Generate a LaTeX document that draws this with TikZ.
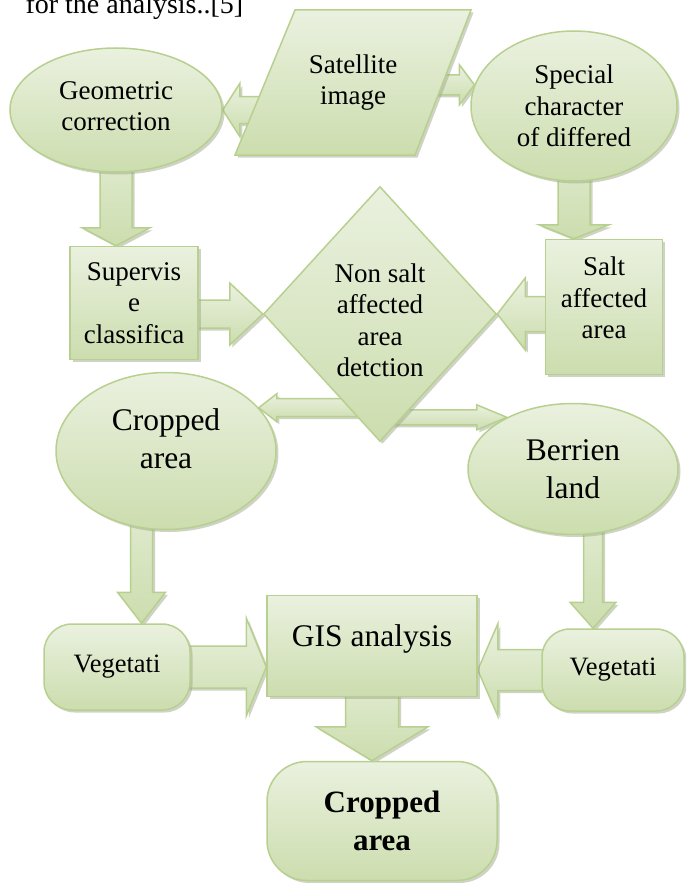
\documentclass[tikz,border=0pt]{standalone}
\usepackage{fontspec}
\setmainfont{Liberation Serif}
\usetikzlibrary{shapes.geometric,shadows,calc}
\definecolor{gfill}{RGB}{234,241,223}
\definecolor{gdark}{RGB}{204,221,174}
\definecolor{gline}{RGB}{184,208,143}
\definecolor{gshad}{RGB}{160,168,142}
\pgfdeclarelayer{bg}
\pgfsetlayers{bg,main}
\begin{document}
\begin{tikzpicture}[x=1pt, y=-1pt,
        look/.style = {draw=gline, line width=1.5, top color=gfill, bottom color=gdark,
            drop shadow={shadow xshift=2.5pt, shadow yshift=-2.5pt, fill=gshad}},
        box/.style = {look, inner sep=2pt, align=center, font=\fontsize{27}{31.5}\selectfont},
        bigtext/.style = {font=\fontsize{31.5}{38}\selectfont},
        vegtext/.style = {font=\fontsize{26.5}{30}\selectfont},
        sw/.store in=\shaftw, hw/.store in=\headw, hl/.store in=\headl,
        blk/.style n args={3}{sw=#1pt, hw=#2pt, hl=#3pt, look, line join=miter,
            to path={let \p1=(\tikztostart), \p2=(\tikztotarget),
                \n1={atan2(\y2-\y1,\x2-\x1)}, \n2={veclen(\x2-\x1,\y2-\y1)} in
                {[shift={(\p1)}, rotate=\n1] (0pt,-\shaftw) -- (\n2-\headl,-\shaftw) -- (\n2-\headl,-\headw)
                -- (\n2+0pt,0pt) -- (\n2-\headl,\headw) -- (\n2-\headl,\shaftw) -- (0pt,\shaftw) -- cycle}}}]
    \clip (0,0) rectangle (686,883);
    \node [anchor=base west, font=\fontsize{28}{34}\selectfont] (ttl) at (22,14) {for the analysis..[5]};
    \coordinate (satc) at (353,82.5);
    \draw [look, line join=miter] ([shift={(-58,-72.5)}]satc) -- ([shift={(118,-72.5)}]satc)
        -- ([shift={(62,72.5)}]satc) -- ([shift={(-118,72.5)}]satc) -- cycle;
    \node [align=center, font=\fontsize{27}{31.5}\selectfont] (sat) at (satc) {Satellite\\image};
    \node [box, ellipse, minimum width=212, minimum height=124] (geo) at (116,110) {Geometric\\correction\\[-23.5pt]};
    \node [box, ellipse, minimum width=206, minimum height=150] (spc) at (574,106) {Special\\character\\of differed};
    \node [box, minimum width=128, minimum height=113] (sup) at (134,303) {Supervis\\e\\classifica};
    \node [box, diamond, inner sep=0pt, minimum width=233, minimum height=255] (dia) at (380,314) {\\Non salt\\affected\\area\\detction};
    \node [box, minimum width=117, minimum height=135] (salt) at (604,307) {Salt\\affected\\area\\[-13.5pt]};
    \node [box, bigtext, ellipse, minimum width=220, minimum height=157] (crop) at (166,451) {Cropped\\area\\[-14pt]};
    \node [box, bigtext, ellipse, minimum width=210, minimum height=131] (ber) at (573,469) {Berrien\\land};
    \node [box, vegtext, rounded corners=28, minimum width=146, minimum height=86] (vegl) at (117,667) {Vegetati};
    \node [box, bigtext, text height=20pt, text depth=20pt, minimum width=210, minimum height=101] (gis) at (372,646) {GIS analysis};
    \node [box, vegtext, rounded corners=28, minimum width=142, minimum height=82] (vegr) at (613,670) {Vegetati};
    \node [box, rounded corners=40, font=\fontsize{31}{38}\selectfont\bfseries, minimum width=230, minimum height=119] (out) at (382,821) {Cropped\\area};
    \coordinate (ml) at ($(crop.south)!.5!(vegl.north)$);
    \coordinate (mr) at ($(ber.south)!.5!(vegr.north)$);
    \begin{pgfonlayer}{bg}
        \draw [blk={13.5}{26.5}{17}] (sat.center |- geo.east) to (geo.east);
        \draw [blk={10}{20}{15}] (sat.center |- spc.168) to (spc.168);
        \draw [blk={16}{34}{18}] (geo.center) to (geo.center |- sup.north);
        \draw [blk={14}{31}{33}] (sup.center |- dia.west) to (dia.west);
        \draw [blk={16}{35}{14}] (spc.center) to (spc.center |- salt.north);
        \draw [blk={17.5}{36}{28}] (salt.center |- dia.east) to (dia.east);
        \draw [blk={9}{14}{18}] (dia.center |- crop.25) to (crop.25);
        \draw [blk={7.5}{12.5}{30}] (dia.center |- ber.142.7) to (ber.142.7);
        \draw [blk={11}{24}{31}] (ml |- crop.center) to (ml |- vegl.north);
        \draw [blk={9.5}{23}{26}] (mr |- ber.center) to (mr |- vegr.north);
        \draw [blk={21}{49}{20}] (vegl.center) to (gis.west |- vegl.center);
        \draw [blk={20.5}{46}{20}] (vegr.center) to (gis.east |- vegr.center);
        \draw [blk={26.5}{56}{34}] (gis.center) to (gis.center |- out.north);
    \end{pgfonlayer}
\end{tikzpicture}
\end{document}
